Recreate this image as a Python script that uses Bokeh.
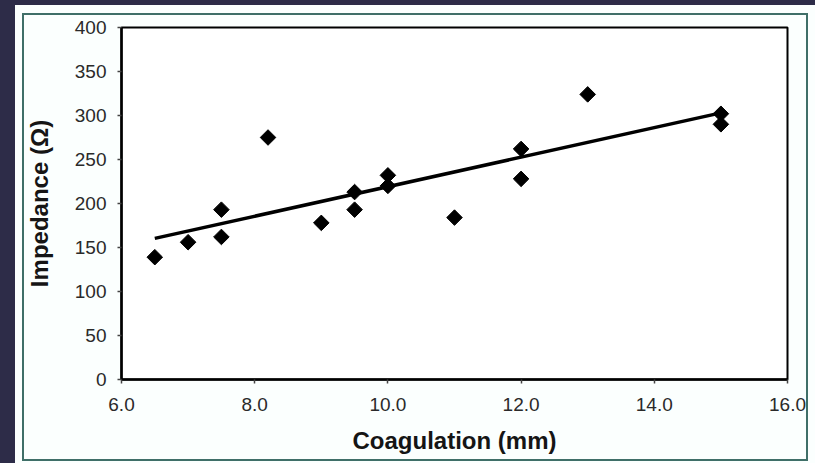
import numpy as np
from bokeh.plotting import figure
from bokeh.models import (Range1d, FixedTicker, NumeralTickFormatter,
                          GlobalInlineStyleSheet, ColumnDataSource)
from bokeh.embed import file_html
from bokeh.resources import INLINE

# ---- data ----
coagulation_mm = [6.5, 7.0, 7.5, 7.5, 8.2, 9.0, 9.5, 9.5, 10.0, 10.0, 11.0, 12.0, 12.0, 13.0, 15.0, 15.0]
impedance_ohm = [139, 156, 193, 162, 275, 178, 213, 193, 232, 220, 184, 262, 228, 324, 302, 290]
x_ticks = [6.0, 8.0, 10.0, 12.0, 14.0, 16.0]
y_ticks = [0, 50, 100, 150, 200, 250, 300, 350, 400]
x_label = "Coagulation (mm)"
y_label = "Impedance (\u03a9)"

# linear trend line (least squares)
slope, intercept = np.polyfit(coagulation_mm, impedance_ohm, 1)
trend_x = [min(coagulation_mm), max(coagulation_mm)]
trend_y = [slope * v + intercept for v in trend_x]

NAVY = "#2d2c48"
TEAL = "#3f6f68"
PANEL = "#fbfffe"
FONT = "Liberation Sans"

p = figure(width=815, height=463, output_backend="svg", toolbar_location=None,
           x_range=Range1d(6, 16), y_range=Range1d(0, 400),
           min_border_left=121, min_border_right=28, min_border_top=27, min_border_bottom=84)

p.stylesheets = [GlobalInlineStyleSheet(css="body{background-color:%s;}" % NAVY)]

# page decoration: navy strips, light panel and teal frame drawn as the element background
g = "linear-gradient({c},{c}) {x}px {y}px / {w}px {h}px no-repeat"
layers = [
    g.format(c=TEAL, x=22, y=13, w=786, h=2),    # top line
    g.format(c=TEAL, x=22, y=459, w=786, h=2),   # bottom line
    g.format(c=TEAL, x=22, y=13, w=2, h=448),    # left line
    g.format(c=TEAL, x=806, y=13, w=2, h=448),   # right line
    g.format(c=NAVY, x=0, y=0, w=15, h=463),     # left strip
    g.format(c=NAVY, x=0, y=0, w=815, h=5),      # top strip
]
p.styles = {"background": ", ".join(layers) + ", " + PANEL}

p.border_fill_color = PANEL
p.border_fill_alpha = 0
p.background_fill_color = "white"
p.outline_line_color = "black"
p.outline_line_width = 2
p.xgrid.visible = False
p.ygrid.visible = False

src = ColumnDataSource(dict(x=coagulation_mm, y=impedance_ohm))
p.line(trend_x, trend_y, line_color="black", line_width=3.5)
p.scatter("x", "y", source=src, marker="square", angle=np.pi / 4, size=11,
          fill_color="black", line_color="black")

for ax in (p.xaxis[0], p.yaxis[0]):
    ax.axis_line_color = "black"
    ax.axis_line_width = 2.5
    ax.major_tick_line_color = "#444444"
    ax.major_tick_line_width = 1.5
    ax.major_tick_out = 4
    ax.major_tick_in = 0
    ax.minor_tick_line_color = None
    ax.major_label_text_font = FONT
    ax.major_label_text_font_size = "19px"
    ax.major_label_text_color = "#2a2a2a"
    ax.axis_label_text_font = FONT
    ax.axis_label_text_font_style = "bold"
    ax.axis_label_text_font_size = "24px"
    ax.axis_label_text_color = "#151515"

p.xaxis[0].ticker = FixedTicker(ticks=x_ticks)
p.xaxis[0].formatter = NumeralTickFormatter(format="0.0")
p.xaxis[0].axis_label = x_label
p.xaxis[0].major_label_standoff = 14
p.xaxis[0].axis_label_standoff = 13

p.yaxis[0].ticker = FixedTicker(ticks=y_ticks)
p.yaxis[0].formatter = NumeralTickFormatter(format="0")
p.yaxis[0].axis_label = y_label
p.yaxis[0].major_label_standoff = 11
p.yaxis[0].axis_label_standoff = 19

open("out.html", "w").write(file_html(p, INLINE))
